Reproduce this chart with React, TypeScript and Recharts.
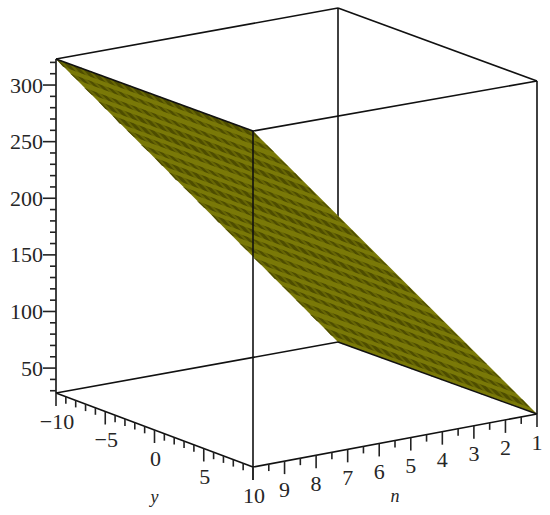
import { Scatter, ScatterChart, XAxis, YAxis } from 'recharts';

// plot box limits
const nRange = [1, 10];
const yRange = [-10, 10];
const zRange = [28, 323];

// surface samples: height read at each n, the surface is flat along y
const surfaceN = [1, 1.225, 1.45, 1.675, 1.9, 2.125, 2.35, 2.575, 2.8, 3.025, 3.25, 3.475, 3.7, 3.925, 4.15, 4.375, 4.6, 4.825, 5.05, 5.275, 5.5, 5.725, 5.95, 6.175, 6.4, 6.625, 6.85, 7.075, 7.3, 7.525, 7.75, 7.975, 8.2, 8.425, 8.65, 8.875, 9.1, 9.325, 9.55, 9.775, 10];
const surfaceZ = [28, 35, 43, 50, 57, 65, 72, 80, 87, 94, 102, 109, 116, 124, 131, 139, 146, 153, 161, 168, 175, 183, 190, 197, 205, 212, 220, 227, 234, 242, 249, 256, 264, 271, 279, 286, 293, 301, 308, 315, 323];
const surfaceY = [-9.5, -8.5, -7.5, -6.5, -5.5, -4.5, -3.5, -2.5, -1.5, -0.5, 0.5, 1.5, 2.5, 3.5, 4.5, 5.5, 6.5, 7.5, 8.5, 9.5];

// axis ticks
const zMajor = [50, 100, 150, 200, 250, 300];
const zMinor = [30, 40, 60, 70, 80, 90, 110, 120, 130, 140, 160, 170, 180, 190, 210, 220, 230, 240, 260, 270, 280, 290, 310, 320];
const yMajor = [-10, -5, 0, 5, 10];
const yMinor = [-9, -8, -7, -6, -4, -3, -2, -1, 1, 2, 3, 4, 6, 7, 8, 9];
const nMajor = [1, 2, 3, 4, 5, 6, 7, 8, 9, 10];
const nMinor = [1.5, 2.5, 3.5, 4.5, 5.5, 6.5, 7.5, 8.5, 9.5];
const nLabels = [1, 2, 3, 4, 5, 6, 7, 8, 9];

type P3 = [number, number, number];
const [nLo, nHi] = nRange;
const [yLo, yHi] = yRange;
const [zLo, zHi] = zRange;

// box edges behind and in front of the surface
const backEdges: P3[][] = [
  [[nLo, yLo, zHi], [nLo, yLo, zLo]],
  [[nHi, yLo, zLo], [nLo, yLo, zLo]],
  [[nHi, yLo, zHi], [nLo, yLo, zHi]],
  [[nLo, yLo, zHi], [nLo, yHi, zHi]],
];
const frontEdges: P3[][] = [
  [[nHi, yLo, zHi], [nHi, yLo, zLo]],
  [[nHi, yHi, zHi], [nHi, yHi, zLo]],
  [[nLo, yHi, zHi], [nLo, yHi, zLo]],
  [[nHi, yLo, zLo], [nHi, yHi, zLo]],
  [[nHi, yHi, zLo], [nLo, yHi, zLo]],
  [[nLo, yLo, zLo], [nLo, yHi, zLo]],
  [[nHi, yLo, zHi], [nHi, yHi, zHi]],
  [[nHi, yHi, zHi], [nLo, yHi, zHi]],
];

// view projection of the 3d box onto the flat chart plane
const project = ([n, y, z]: P3) => {
  const u = (y - yLo) / (yHi - yLo);
  const v = (nHi - n) / (nHi - nLo);
  const h = (z - zLo) / (zHi - zLo);
  return {
    sx: 56 + 197 * u + 282 * v + 2 * u * v,
    sy: 393 + 74 * u - 51 * v - 2 * u * v - h * (334 + 2 * u - 3 * u * v),
  };
};
const line3 = (pts: P3[]) => pts.map(project);

const FONT = '"Liberation Serif", serif';
const noDot = () => null;

const Seg = (pts: { sx: number; sy: number }[], key: string, stroke: string, width: number, opacity = 1) => (
  <Scatter
    key={key}
    data={pts}
    shape={noDot}
    line={{ stroke, strokeWidth: width, strokeOpacity: opacity, fill: 'none' }}
    isAnimationActive={false}
  />
);

const Patch = (pts: { sx: number; sy: number }[], key: string, fill: string) => (
  <Scatter
    key={key}
    data={pts}
    shape={noDot}
    line={{ stroke: 'none', fill }}
    isAnimationActive={false}
  />
);

// short tick hanging from a projected axis point
const tick = (p: { sx: number; sy: number }, dx: number, dy: number) => [p, { sx: p.sx + dx, sy: p.sy + dy }];

const labelShape = (dx: number, dy: number, anchor: string, size = 22, italic = false) => (props: any) => {
  const label = props.payload?.label ?? props.label;
  return (
    <text
      x={props.cx + dx}
      y={props.cy + dy}
      textAnchor={anchor}
      dominantBaseline="central"
      fontFamily={FONT}
      fontSize={size}
      fontStyle={italic ? 'italic' : 'normal'}
      fill="#262626"
    >
      {label}
    </text>
  );
};

export default function App() {
  const zAxisPts = (z: number) => project([nHi, yLo, z]);
  const yAxisPts = (y: number) => project([nHi, y, zLo]);
  const nAxisPts = (n: number) => project([n, yHi, zLo]);

  return (
    <div style={{ position: 'absolute', left: 0, top: 0, width: 550, height: 515, background: '#fff' }}>
      <ScatterChart width={550} height={515} margin={{ top: 0, right: 0, bottom: 0, left: 0 }}>
        <XAxis type="number" dataKey="sx" domain={[0, 550]} hide />
        <YAxis type="number" dataKey="sy" domain={[0, 515]} reversed hide />

        {backEdges.map((e, i) => Seg(line3(e), `back-${i}`, '#111', 1.6))}

        {/* surface body */}
        {Patch(
          line3([
            [nHi, yLo, zHi],
            [nHi, yHi, zHi],
            [nLo, yHi, zLo],
            [nLo, yLo, zLo],
          ]),
          'surface',
          '#7a7908',
        )}
        {/* every other mesh cell is darker, that makes the bands */}
        {surfaceN.slice(0, -1).map((n, i) =>
          i % 2 === 1
            ? Patch(
                line3([
                  [n, yLo, surfaceZ[i]],
                  [n, yHi, surfaceZ[i]],
                  [surfaceN[i + 1], yHi, surfaceZ[i + 1]],
                  [surfaceN[i + 1], yLo, surfaceZ[i + 1]],
                ]),
                `band-${i}`,
                '#4e4d00',
              )
            : null,
        )}
        {/* mesh lines along n, lighter beading across the bands */}
        {surfaceY.map((y) =>
          Seg(line3(surfaceN.map((n, i) => [n, y, surfaceZ[i]] as P3)), `mesh-y-${y}`, '#7a7908', 2, 0.6),
        )}

        {frontEdges.map((e, i) => Seg(line3(e), `front-${i}`, '#111', 1.6))}

        {zMajor.map((z) => Seg(tick(zAxisPts(z), -13, 0), `zM-${z}`, '#222', 1.6))}
        {zMinor.map((z) => Seg(tick(zAxisPts(z), -6, 0), `zm-${z}`, '#222', 1.6))}
        {yMajor.map((y) => Seg(tick(yAxisPts(y), 0, 13), `yM-${y}`, '#222', 1.6))}
        {yMinor.map((y) => Seg(tick(yAxisPts(y), 0, 7), `ym-${y}`, '#222', 1.6))}
        {nMajor.map((n) => Seg(tick(nAxisPts(n), 0, 13), `nM-${n}`, '#222', 1.6))}
        {nMinor.map((n) => Seg(tick(nAxisPts(n), 0, 7), `nm-${n}`, '#222', 1.6))}

        <Scatter
          data={zMajor.map((z) => ({ ...zAxisPts(z), label: String(z) }))}
          shape={labelShape(-13, 0, 'end')}
          isAnimationActive={false}
        />
        <Scatter
          data={yMajor.map((y) => ({ ...yAxisPts(y), label: y < 0 ? `\u2212${Math.abs(y)}` : String(y) }))}
          shape={labelShape(1, 28, 'middle')}
          isAnimationActive={false}
        />
        <Scatter
          data={nLabels.map((n) => ({ ...nAxisPts(n), label: String(n) }))}
          shape={labelShape(0, 28, 'middle')}
          isAnimationActive={false}
        />
        <Scatter data={[{ ...yAxisPts(0), label: 'y' }]} shape={labelShape(0, 67, 'middle', 18, true)} isAnimationActive={false} />
        <Scatter data={[{ ...nAxisPts(5.5), label: 'n' }]} shape={labelShape(0, 55, 'middle', 18, true)} isAnimationActive={false} />
      </ScatterChart>
    </div>
  );
}
